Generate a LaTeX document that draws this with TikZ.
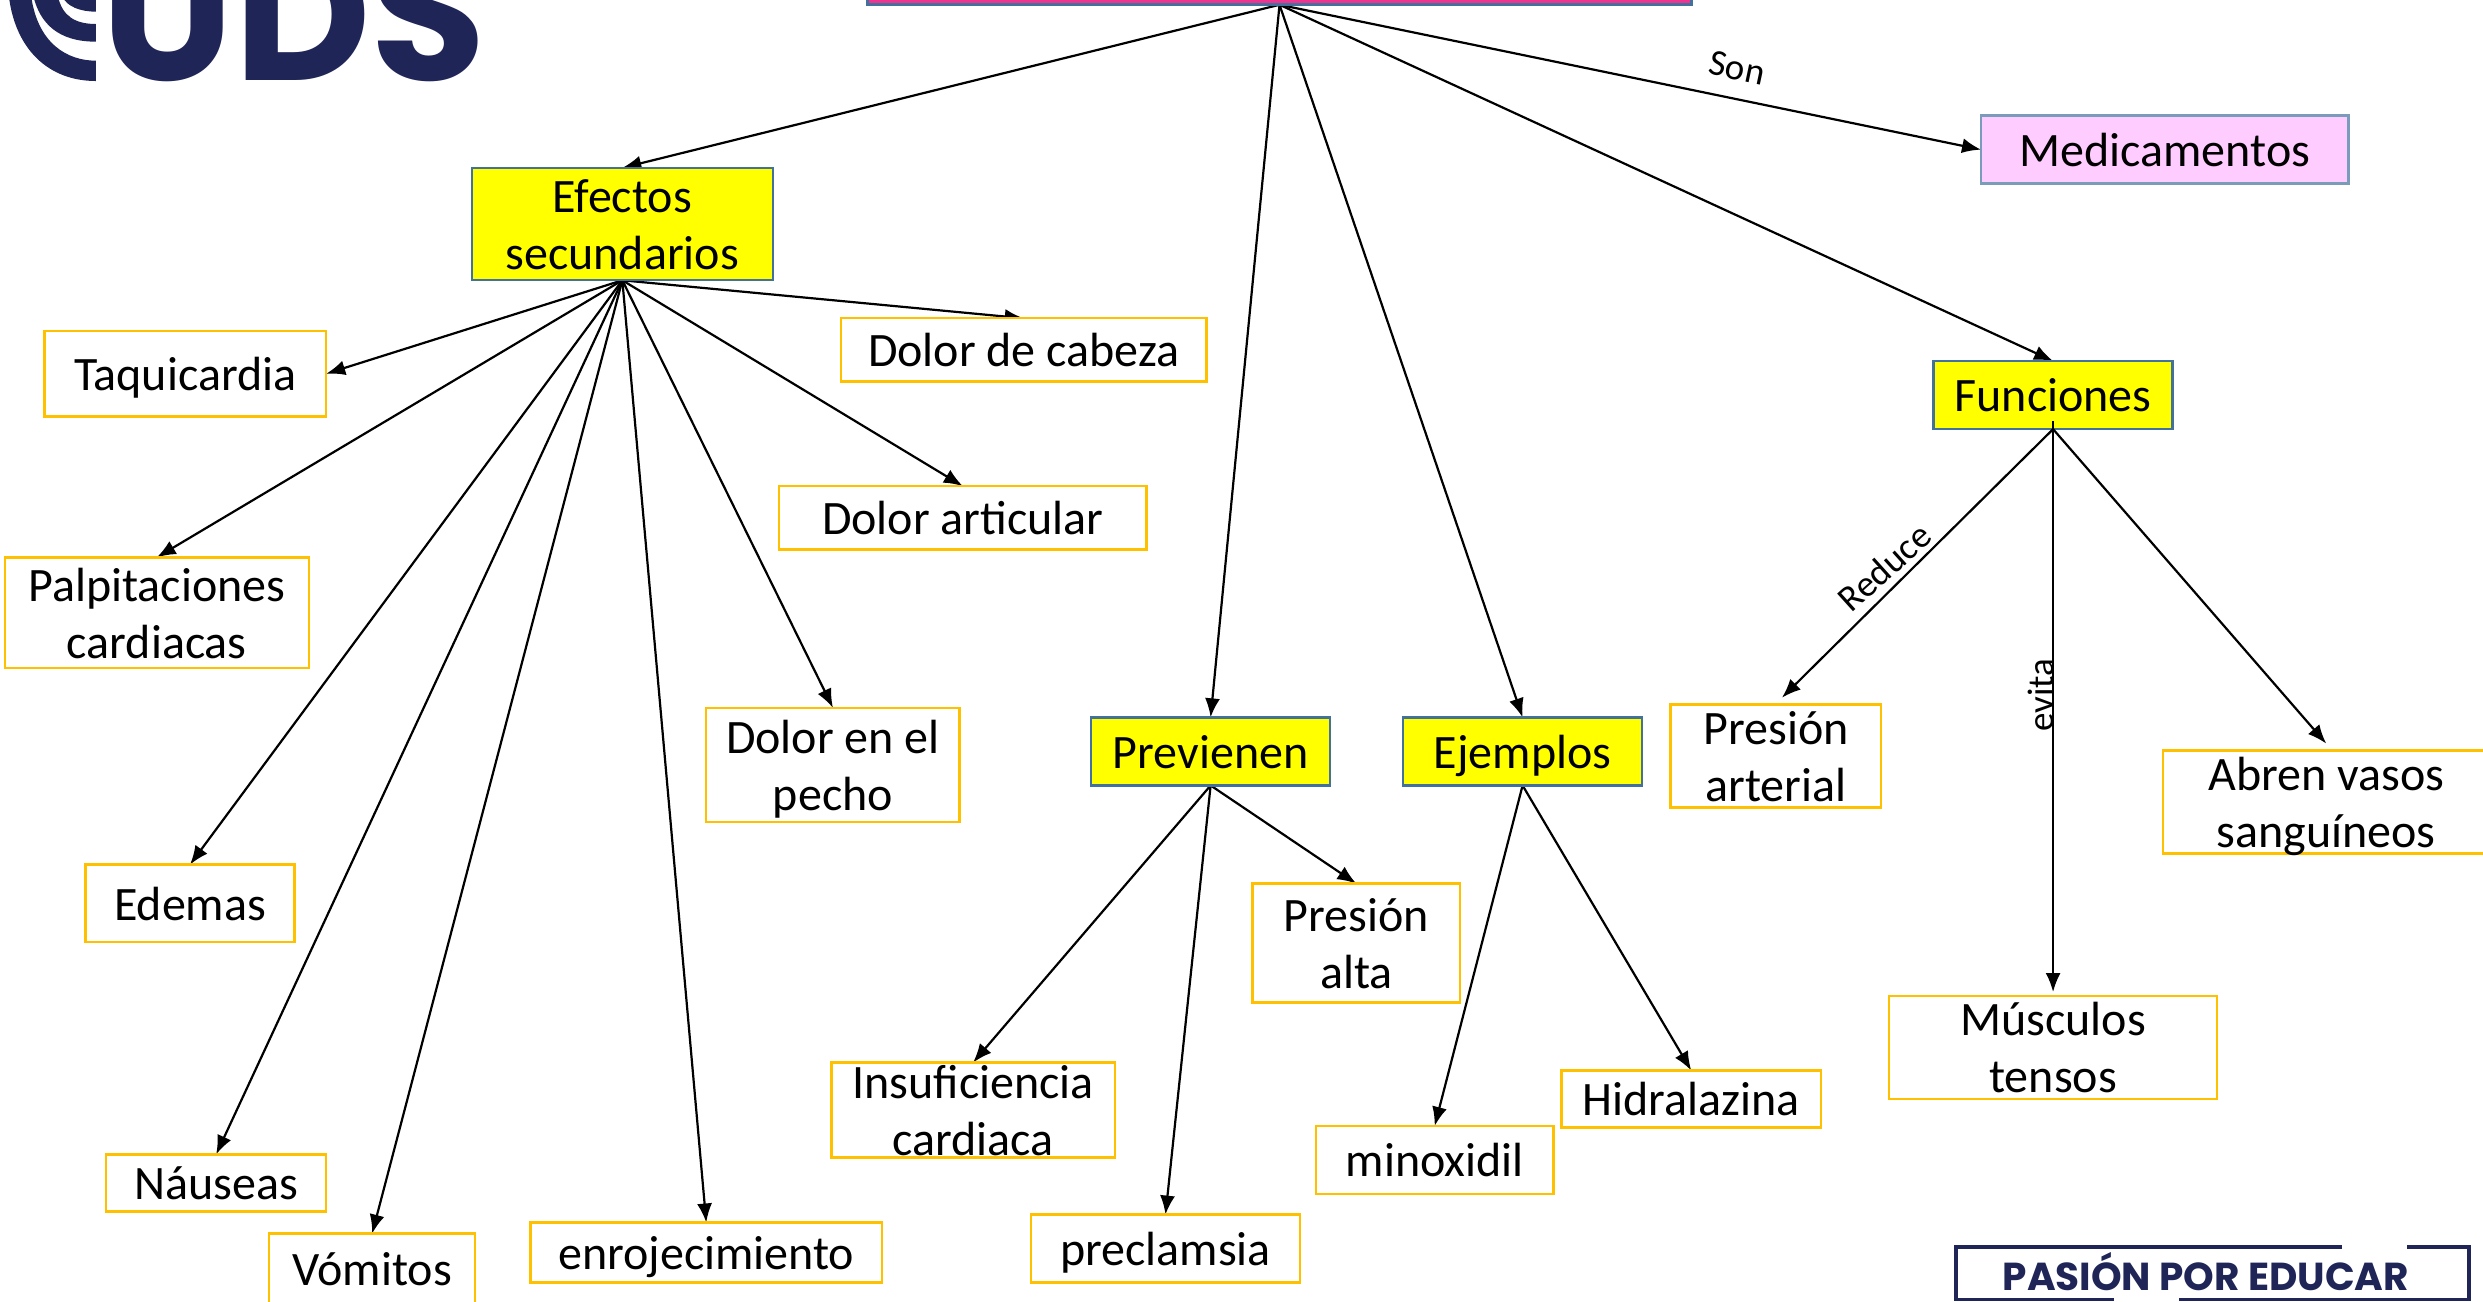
\documentclass[tikz,border=0pt]{standalone}
\usepackage{fontspec}
\setmainfont{Carlito}
\newfontfamily\logofont{Poppins}[UprightFont=* Bold]
\usetikzlibrary{arrows.meta,backgrounds}
\definecolor{navy}{HTML}{1F2557}
\definecolor{borange}{HTML}{FFC000}
\definecolor{bblue}{HTML}{41719C}
\definecolor{kyellow}{HTML}{FFFF00}
\definecolor{klilac}{HTML}{FFCCFF}
\definecolor{kroot}{HTML}{F0338F}
\tikzset{
  box/.style={inner sep=0pt,outer sep=0pt,font=\fontsize{24}{28.5}\selectfont},
  plain/.style={box,draw=borange,fill=white,line width=1.2pt},
  keybox/.style={box,draw=bblue,fill=kyellow,line width=1.2pt},
  lilac/.style={box,draw=bblue!70,fill=klilac,line width=1.2pt},
  rootbox/.style={box,draw=bblue,fill=kroot,line width=1.3pt},
  arr/.style={-{Latex[length=9.5pt,width=7.5pt]},line width=1.1pt,black},
  lbl/.style={inner sep=0pt,font=\fontsize{18.5}{20}\selectfont},
}
% text of a box: takes no room of its own, so the box keeps the size it is given
\newcommand\one[1]{\makebox[0pt]{\raisebox{-8.4pt}[0pt][0pt]{#1}}}
\newcommand\two[2]{\makebox[0pt]{\raisebox{-22.65pt}[0pt][0pt]{\begin{tabular}[b]{@{}c@{}}#1\\#2\end{tabular}}}}
\newcommand\bx[7]{%
  \pgfmathsetmacro\cx{(#4+#6)/2}\pgfmathsetmacro\cy{(#3+#5)/2}%
  \node[#2,minimum width={(#6-#4)*0.79175pt},minimum height={(#5-#3)*0.79175pt}] (#1) at (\cx,\cy) {#7};}
\begin{document}
\begin{tikzpicture}[x=0.79175pt,y=-0.79175pt]
\useasboundingbox (0,0) rectangle (1568,821.6);
% logo
\begin{scope}[x=0.2232pt,y=-0.1667pt]
  \fill[navy] (20,-10) .. controls (35,150) and (110,243) .. (215,243) -- (215,182) .. controls (150,182) and (85,130) .. (70,-10) -- cycle;
  \fill[navy] (75,-10) .. controls (90,70) and (130,125) .. (215,125) -- (215,72) .. controls (170,72) and (140,50) .. (130,-10) -- cycle;
  \fill[navy] (140,-10) .. controls (150,20) and (180,35) .. (215,35) -- (215,-10) -- cycle;
\end{scope}
\node[anchor=base west,inner sep=0pt,text=navy,font=\logofont\fontsize{94}{94}\selectfont] (uds) at (64,51) {UDS};
\draw[navy,line width=1.8pt] (1335,820.5) -- (1235,820.5) -- (1235,787.5) -- (1479,787.5);
\draw[navy,line width=1.8pt] (1520,787.5) -- (1559,787.5) -- (1559,820.5) -- (1376,820.5);
\node[anchor=base,text=navy,inner sep=0pt,font=\logofont\fontsize{19.5}{20}\selectfont] (pasion) at (1393,815) {PASIÓN POR EDUCAR};
% nodes
\bx{root}{rootbox}{-40}{548}{3}{1068}{}
\bx{efe}{keybox}{106}{298}{177}{488}{\two{Efectos}{secundarios}}
\bx{med}{lilac}{73}{1251}{116}{1483}{\one{Medicamentos}}
\bx{taq}{plain}{209}{28}{263}{206}{\one{Taquicardia}}
\bx{cab}{plain}{201}{531}{241}{762}{\one{Dolor de cabeza}}
\bx{art}{plain}{307}{492}{347}{724}{\one{Dolor articular}}
\bx{pal}{plain}{352}{3}{422}{195}{\two{Palpitaciones}{cardiacas}}
\bx{ede}{plain}{546}{54}{595}{186}{\one{Edemas}}
\bx{pec}{plain}{447}{446}{519}{606}{\two{Dolor en el}{pecho}}
\bx{fun}{keybox}{228}{1221}{271}{1372}{\one{Funciones}}
\bx{pre}{keybox}{453}{689}{496}{840}{\one{Previenen}}
\bx{eje}{keybox}{453}{886}{496}{1037}{\one{Ejemplos}}
\bx{par}{plain}{445}{1055}{510}{1188}{\two{Presión}{arterial}}
\bx{abr}{plain}{474}{1366}{539}{1572}{\two{Abren vasos}{sanguíneos}}
\bx{mus}{plain}{629}{1193}{694}{1400}{\two{Músculos}{tensos}}
\bx{pal2}{plain}{558}{791}{633}{922}{\two{Presión}{alta}}
\bx{ins}{plain}{671}{525}{731}{704}{\two{Insuficiencia}{cardiaca}}
\bx{hid}{plain}{676}{986}{712}{1150}{\one{Hidralazina}}
\bx{min}{plain}{711}{831}{754}{981}{\one{minoxidil}}
\bx{pcl}{plain}{767}{651}{810}{821}{\one{preclamsia}}
\bx{nau}{plain}{729}{67}{765}{206}{\one{Náuseas}}
\bx{vom}{plain}{779}{170}{823}{300}{\one{Vómitos}}
\bx{enr}{plain}{772}{335}{810}{557}{\one{enrojecimiento}}
% connectors
\begin{scope}[on background layer]
  \draw[arr] (root.south) -- (efe.north);
  \draw[arr] (root.south) -- (pre.north);
  \draw[arr] (root.south) -- (eje.north);
  \draw[arr] (root.south) -- (fun.north);
  \draw[arr] (root.south) -- (med.west);
  \draw[arr] (efe.south) -- (taq.east);
  \draw[arr] (efe.south) -- (cab.north);
  \draw[arr] (efe.south) -- (art.north);
  \draw[arr] (efe.south) -- (pal.north);
  \draw[arr] (efe.south) -- (ede.north);
  \draw[arr] (efe.south) -- (pec.north);
  \draw[arr] (efe.south) -- (nau.north);
  \draw[arr] (efe.south) -- (vom.north);
  \draw[arr] (efe.south) -- (enr.north);
  \draw[arr] (pre.south) -- (pal2.north);
  \draw[arr] (pre.south) -- (ins.north);
  \draw[arr] (pre.south) -- (pcl.north);
  \draw[arr] (eje.south) -- (min.north);
  \draw[arr] (eje.south) -- (hid.north);
  \coordinate (partip) at ([xshift=3pt,yshift=3.5pt]par.north);
  \coordinate (abrtip) at ([yshift=3.5pt]abr.north);
  \coordinate (mustip) at ([yshift=2pt]mus.north);
\end{scope}
\draw[arr] (fun.south) -- (partip);
\draw[arr] ([yshift=4pt]fun.south) -- (mustip);
\draw[arr] (fun.south) -- (abrtip);
% labels
\node[lbl,rotate=-12] (son) at (1097,43) {Son};
\node[lbl,rotate=42] (red) at (1190,358) {Reduce};
\node[lbl,rotate=90] (evi) at (1289,439) {evita};
\end{tikzpicture}
\end{document}
